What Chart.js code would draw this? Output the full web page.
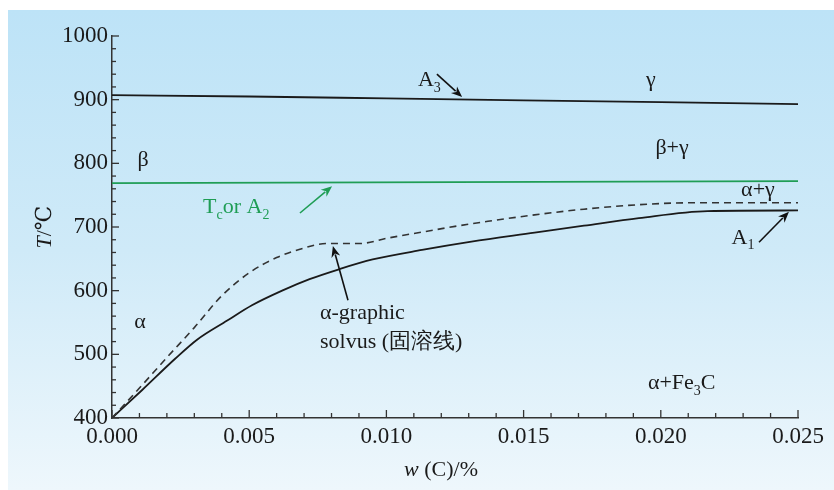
<!DOCTYPE html>
<html lang="en">
<head>
<meta charset="UTF-8">
<title>Fe-C low carbon corner</title>
<script src="https://cdn.jsdelivr.net/npm/chart.js"></script>
<style>
  body { margin: 0; background: #fff; }
</style>
</head>
<body>
<canvas id="phaseChart" width="834" height="490"></canvas>
<script>
// carbon content w(C) in %, temperature in deg C
const a3W = [0, 0.005, 0.010, 0.015, 0.020, 0.025];
const a3T = [907, 905, 902, 899, 896, 893];

const curieW = [0, 0.025];
const curieT = [769, 772];

const solvusW = [0, 0.0011, 0.0023, 0.0031, 0.0042, 0.0051, 0.0062, 0.0072, 0.0083, 0.0095, 0.0113, 0.0131, 0.0154, 0.0172, 0.0192, 0.0217, 0.025];
const solvusT = [400, 444, 493, 523, 553, 577, 600, 618, 634, 649, 664, 677, 691, 702, 714, 725, 726];

const dashW = [0, 0.001, 0.002, 0.003, 0.004, 0.005, 0.006, 0.007, 0.0078, 0.009, 0.0101, 0.0113, 0.0125, 0.0137, 0.0154, 0.0172, 0.0192, 0.021, 0.025];
const dashT = [400, 447, 495, 542, 592, 628, 652, 667, 674, 674, 683, 692, 701, 709, 719, 728, 735, 738, 738];

const xTicks = [0, 0.005, 0.010, 0.015, 0.020, 0.025];
const yTicks = [400, 500, 600, 700, 800, 900, 1000];

const GREEN = '#1f9d55';
const INK = '#1a1a1a';
const SERIF = '"Liberation Serif", "DejaVu Serif", serif';

// text labels, placed in data units
const labels = [
  { parts: [['A'], ['3', 1]], w: 0.01115, t: 931, align: 'left' },
  { parts: [['γ']], w: 0.01964, t: 931 },
  { parts: [['β+γ']], w: 0.02041, t: 824 },
  { parts: [['β']], w: 0.00113, t: 805 },
  { parts: [['α+γ']], w: 0.02354, t: 757 },
  { parts: [['T'], ['c', 1], ['or A'], ['2', 1]], w: 0.00332, t: 731, align: 'left', color: GREEN },
  { parts: [['A'], ['1', 1]], w: 0.02258, t: 683, align: 'left' },
  { parts: [['α-graphic']], w: 0.00758, t: 565, align: 'left' },
  { parts: [['solvus (固溶线)']], w: 0.00758, t: 519, align: 'left' },
  { parts: [['α']], w: 0.00102, t: 551 },
  { parts: [['α+Fe'], ['3', 1], ['C']], w: 0.01953, t: 455, align: 'left' }
];

const arrows = [
  { from: [0.01184, 940], to: [0.01276, 904] },
  { from: [0.00685, 722], to: [0.00802, 764], color: GREEN },
  { from: [0.02358, 676], to: [0.02467, 724] },
  { from: [0.0086, 585], to: [0.00805, 670] }
];

function pts(xs, ys) {
  return xs.map((x, i) => ({ x: x, y: ys[i] }));
}

function drawParts(ctx, parts, x, y, align, color) {
  const big = '22px ' + SERIF, small = '14px ' + SERIF;
  let total = 0;
  parts.forEach(p => { ctx.font = p[1] ? small : big; total += ctx.measureText(p[0]).width; });
  let cx = align === 'left' ? x : x - total / 2;
  ctx.fillStyle = color || INK;
  ctx.textAlign = 'left';
  ctx.textBaseline = 'middle';
  parts.forEach(p => {
    ctx.font = p[1] ? small : big;
    ctx.fillText(p[0], cx, p[1] ? y + 8 : y);
    cx += ctx.measureText(p[0]).width;
  });
}

function drawArrow(ctx, x1, y1, x2, y2, color) {
  const ang = Math.atan2(y2 - y1, x2 - x1);
  const hl = 11, hw = 4.5;
  ctx.strokeStyle = color; ctx.fillStyle = color; ctx.lineWidth = 1.6;
  ctx.beginPath();
  ctx.moveTo(x1, y1);
  ctx.lineTo(x2 - hl * 0.8 * Math.cos(ang), y2 - hl * 0.8 * Math.sin(ang));
  ctx.stroke();
  ctx.beginPath();
  ctx.moveTo(x2, y2);
  ctx.lineTo(x2 - hl * Math.cos(ang) + hw * Math.sin(ang), y2 - hl * Math.sin(ang) - hw * Math.cos(ang));
  ctx.lineTo(x2 - hl * 0.7 * Math.cos(ang), y2 - hl * 0.7 * Math.sin(ang));
  ctx.lineTo(x2 - hl * Math.cos(ang) - hw * Math.sin(ang), y2 - hl * Math.sin(ang) + hw * Math.cos(ang));
  ctx.closePath();
  ctx.fill();
}

const backdrop = {
  id: 'backdrop',
  beforeDraw(chart) {
    const ctx = chart.ctx;
    ctx.save();
    ctx.fillStyle = '#fff';
    ctx.fillRect(0, 0, chart.width, chart.height);
    const g = ctx.createLinearGradient(0, 10, 0, chart.height);
    g.addColorStop(0, '#bde3f7');
    g.addColorStop(0.5, '#cfeaf8');
    g.addColorStop(1, '#eef7fc');
    ctx.fillStyle = g;
    ctx.fillRect(8, 10, chart.width - 8, chart.height - 10);
    ctx.restore();
  }
};

const decorations = {
  id: 'decorations',
  afterDraw(chart) {
    const ctx = chart.ctx, xs = chart.scales.x, ys = chart.scales.y;
    const area = chart.chartArea;
    ctx.save();
    // inward tick marks
    ctx.strokeStyle = '#333';
    ctx.lineWidth = 1.3;
    xs.ticks.forEach(t => {
      const px = xs.getPixelForValue(t.value);
      const major = Math.round(t.value * 1000) % 5 === 0;
      ctx.beginPath();
      ctx.moveTo(px, area.bottom);
      ctx.lineTo(px, area.bottom - (major ? 8 : 5));
      ctx.stroke();
    });
    ys.ticks.forEach(t => {
      const py = ys.getPixelForValue(t.value);
      const major = t.value % 100 === 0;
      ctx.beginPath();
      ctx.moveTo(area.left, py);
      ctx.lineTo(area.left + (major ? 7 : 4), py);
      ctx.stroke();
    });

    labels.forEach(l => {
      drawParts(ctx, l.parts, xs.getPixelForValue(l.w), ys.getPixelForValue(l.t), l.align, l.color);
    });
    arrows.forEach(a => {
      drawArrow(ctx, xs.getPixelForValue(a.from[0]), ys.getPixelForValue(a.from[1]),
        xs.getPixelForValue(a.to[0]), ys.getPixelForValue(a.to[1]), a.color || '#111');
    });

    // axis titles with italic symbols
    ctx.fillStyle = INK;
    ctx.textBaseline = 'middle';
    ctx.textAlign = 'left';
    ctx.font = 'italic 22px ' + SERIF;
    const wW = ctx.measureText('w').width;
    ctx.font = '22px ' + SERIF;
    const restW = ctx.measureText(' (C)/%').width;
    let tx = 441 - (wW + restW) / 2;
    ctx.font = 'italic 22px ' + SERIF;
    ctx.fillText('w', tx, 470);
    ctx.font = '22px ' + SERIF;
    ctx.fillText(' (C)/%', tx + wW, 470);

    ctx.translate(45, (area.top + area.bottom) / 2);
    ctx.rotate(-Math.PI / 2);
    ctx.font = 'italic 22px ' + SERIF;
    const tW = ctx.measureText('T').width;
    ctx.font = '22px ' + SERIF;
    const uW = ctx.measureText('/℃').width;
    ctx.font = 'italic 22px ' + SERIF;
    ctx.fillText('T', -(tW + uW) / 2, 0);
    ctx.font = '22px ' + SERIF;
    ctx.fillText('/℃', -(tW + uW) / 2 + tW, 0);
    ctx.restore();
  }
};

function lineSet(data, color, dash, width) {
  return {
    data: data,
    showLine: true,
    borderColor: color,
    borderWidth: width || 1.8,
    borderDash: dash || [],
    pointRadius: 0,
    fill: false,
    cubicInterpolationMode: 'monotone'
  };
}

new Chart(document.getElementById('phaseChart').getContext('2d'), {
  type: 'scatter',
  data: {
    datasets: [
      lineSet(pts(a3W, a3T), INK),
      lineSet(pts(curieW, curieT), GREEN),
      lineSet(pts(dashW, dashT), '#333', [7, 5], 1.6),
      lineSet(pts(solvusW, solvusT), INK)
    ]
  },
  options: {
    responsive: false,
    animation: false,
    layout: { padding: { left: 0, right: 36, top: 36, bottom: 0 } },
    plugins: { legend: { display: false }, tooltip: { enabled: false } },
    scales: {
      x: {
        type: 'linear',
        min: 0,
        max: 0.025,
        afterFit: s => { s.height = 72; },
        afterBuildTicks: s => {
          s.ticks = [];
          for (let i = 0; i <= 25; i++) s.ticks.push({ value: i / 1000 });
        },
        ticks: {
          autoSkip: false,
          maxRotation: 0,
          padding: 5,
          color: INK,
          font: { family: SERIF, size: 23 },
          callback: v => (xTicks.some(t => Math.abs(t - v) < 1e-9) ? v.toFixed(3) : '')
        },
        grid: { display: false, drawTicks: false },
        border: { display: true, color: '#333', width: 1.5 }
      },
      y: {
        min: 400,
        max: 1000,
        afterFit: s => { s.width = 112; },
        ticks: {
          stepSize: 20,
          autoSkip: false,
          padding: 4,
          color: INK,
          font: { family: SERIF, size: 23 },
          callback: v => (yTicks.includes(v) ? String(v) : '')
        },
        grid: { display: false, drawTicks: false },
        border: { display: true, color: '#333', width: 1.5 }
      }
    }
  },
  plugins: [backdrop, decorations]
});
</script>
</body>
</html>
